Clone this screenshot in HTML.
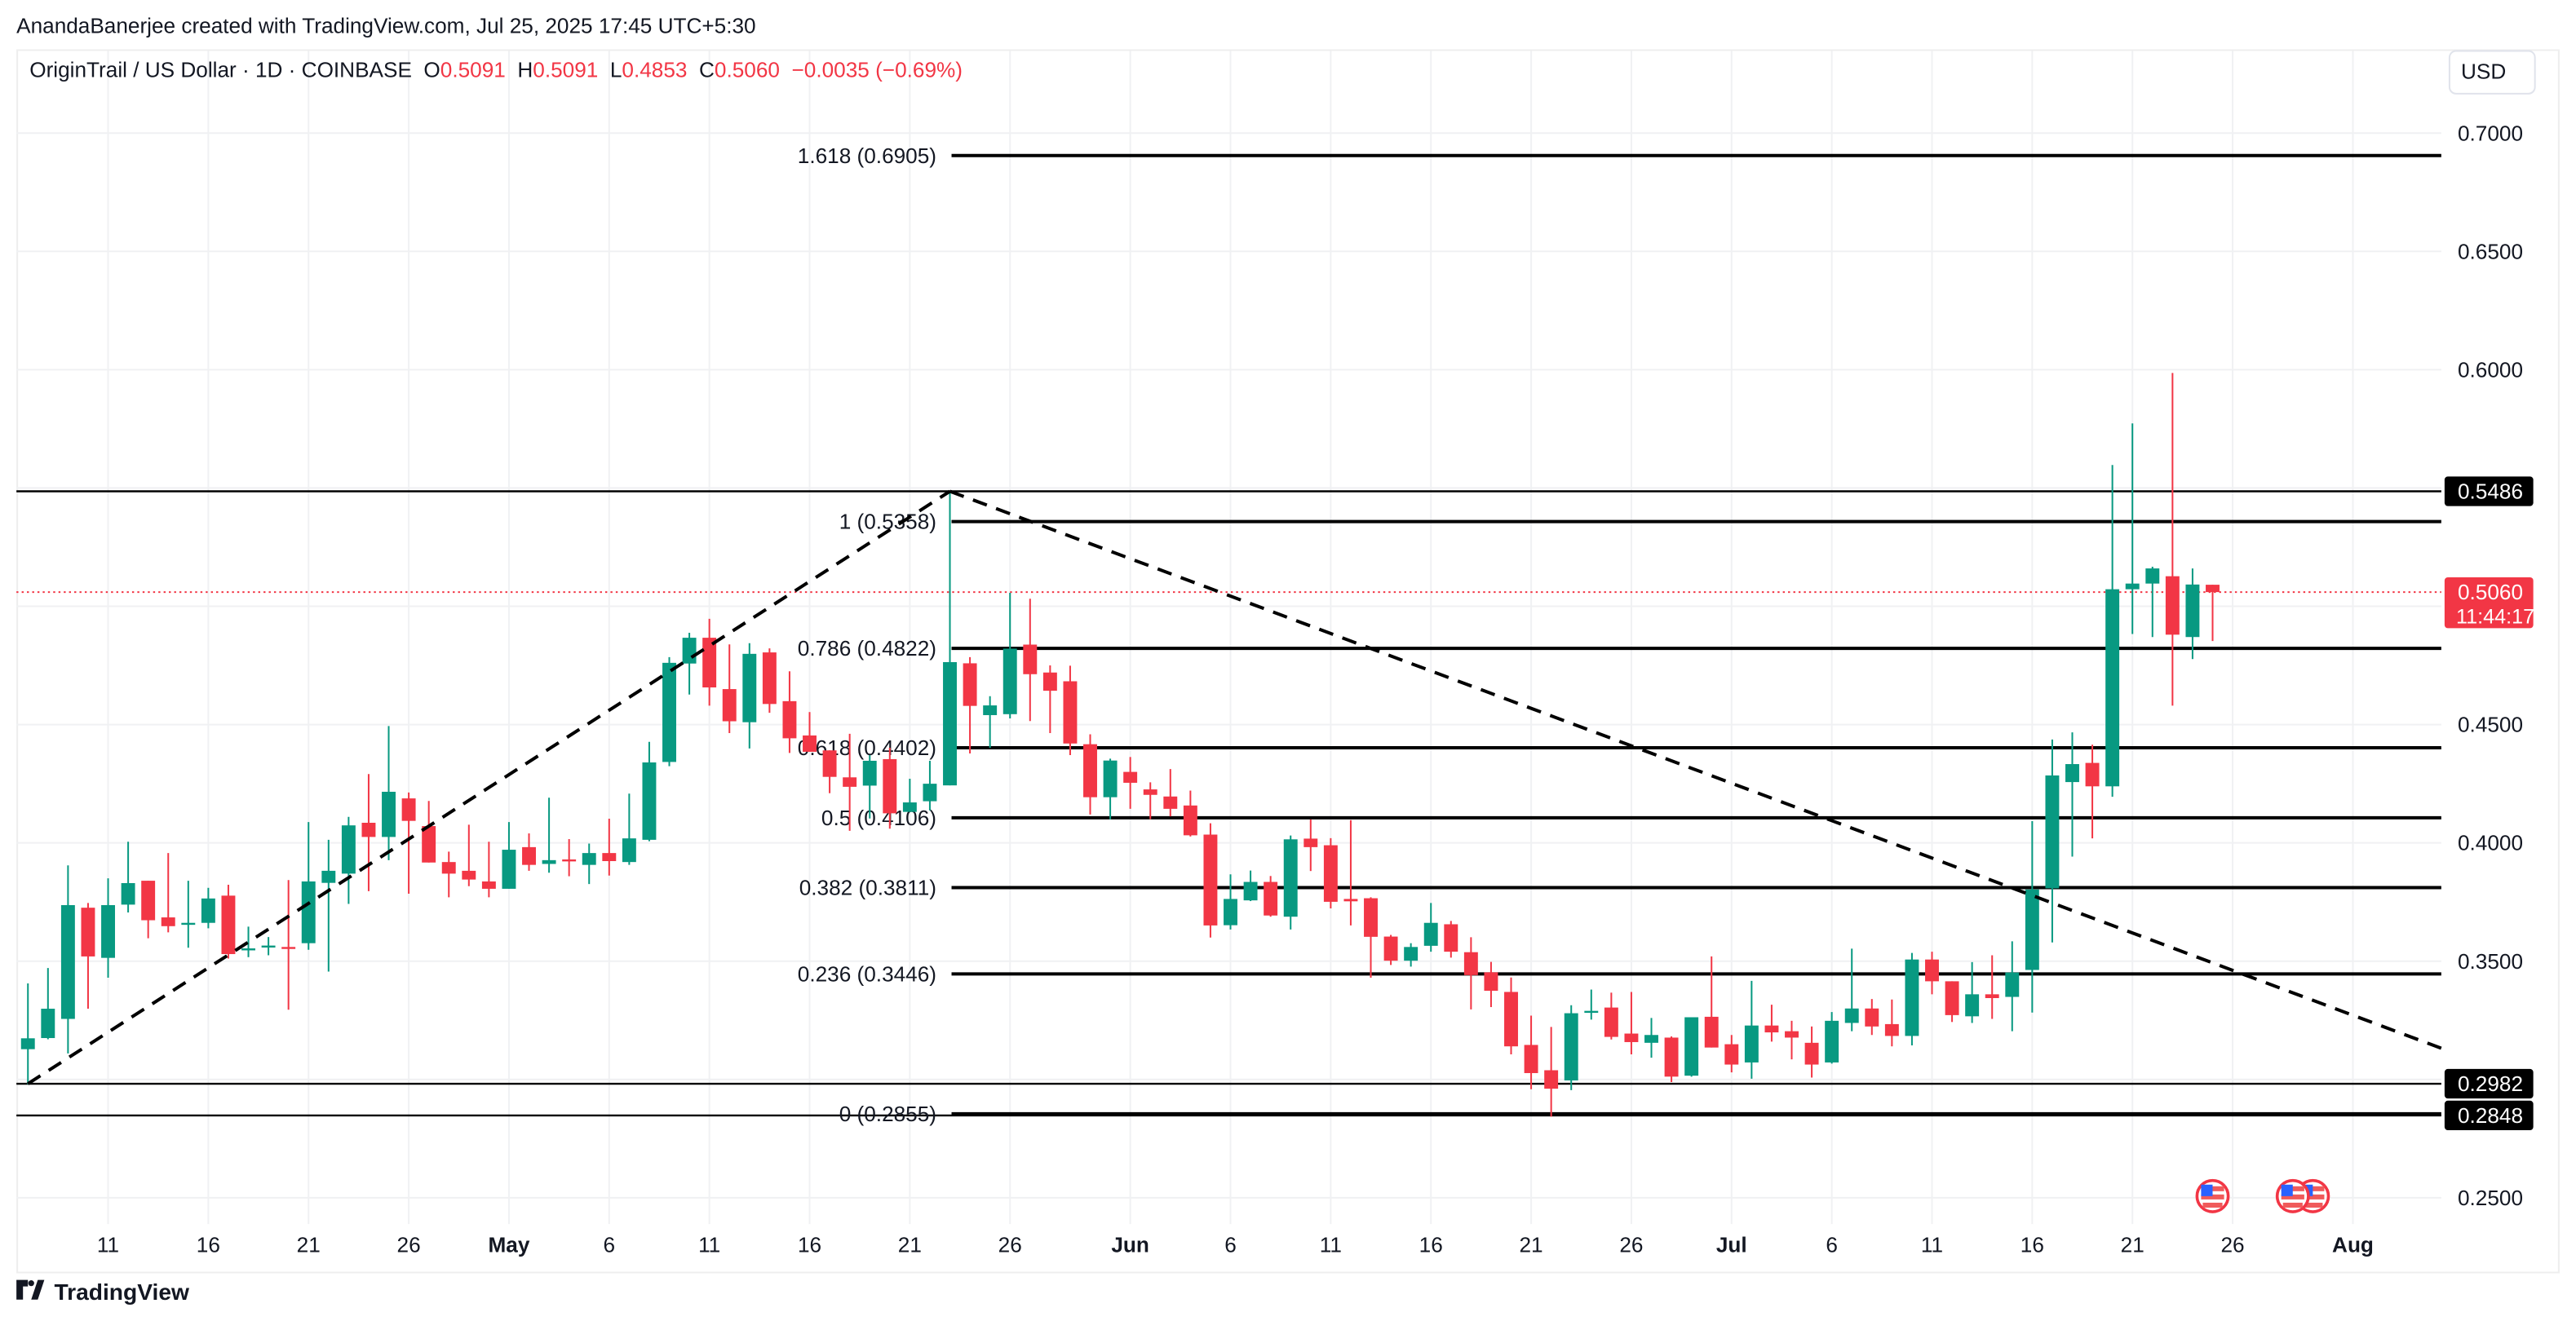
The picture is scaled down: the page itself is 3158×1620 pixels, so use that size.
<!DOCTYPE html>
<html><head><meta charset="utf-8"><style>
html,body{margin:0;padding:0;background:#fff;}
svg{display:block;font-family:"Liberation Sans",sans-serif;}
text{white-space:pre;}
</style></head><body>
<svg id="chart" width="3158" height="1620" viewBox="0 0 1568 804" preserveAspectRatio="none" xmlns="http://www.w3.org/2000/svg">
<rect x="0" y="0" width="1568" height="804" fill="#fff"/>
<text x="10" y="20" font-size="13" fill="#131722">AnandaBanerjee created with TradingView.com, Jul 25, 2025 17:45 UTC+5:30</text>
<rect x="10.5" y="30.5" width="1547" height="744" fill="none" stroke="#eeeeee" stroke-width="1"/>
<g id="grid"></g>
<g id="fib"></g>
<g id="candles"></g>
<g id="overlay"></g>
<text x="18" y="47" font-size="13" fill="#131722">OriginTrail / US Dollar · 1D · COINBASE  O<tspan fill="#f23645">0.5091</tspan>  H<tspan fill="#f23645">0.5091</tspan>  L<tspan fill="#f23645">0.4853</tspan>  C<tspan fill="#f23645">0.5060</tspan>  <tspan fill="#f23645">−0.0035 (−0.69%)</tspan></text>
<rect x="1491" y="31" width="52" height="26" rx="4" fill="#fff" stroke="#e0e3eb"/>
<text x="1498" y="48" font-size="13" fill="#131722">USD</text>
<g id="axis"></g>
<g>
<path d="M10 779 h7 v4 h-3 v8 h-4z M19 791 l4 -12 h4 l-4 12z" fill="#131722"/>
<circle cx="19" cy="781" r="1.8" fill="#131722"/>
<text x="33" y="791" font-size="14" font-weight="bold" fill="#131722">TradingView</text>
</g>
</svg>
<script>
const opens = [.3128,.3175,.3256,.3726,.3514,.3739,.3840,.3685,.3654,.3662,.3777,.3548,.3560,.3560,.3576,.3831,.3870,.4085,.4025,.4188,.4071,.3919,.3882,.3837,.3806,.3982,.3911,.3930,.3907,.3957,.3919,.4013,.4342,.4758,.4867,.4650,.4510,.4805,.4599,.4454,.4391,.4277,.4242,.4354,.4131,.4176,.4243,.4759,.4540,.4544,.4838,.4720,.4683,.4417,.4193,.4300,.4226,.4196,.4158,.4035,.3652,.3757,.3835,.3688,.4018,.3990,.3763,.3766,.3604,.3502,.3565,.3656,.3538,.3453,.3370,.3146,.3039,.2996,.3283,.3304,.3194,.3155,.3177,.3016,.3265,.3149,.3072,.3228,.3204,.3155,.3072,.3239,.3300,.3234,.3184,.3507,.3415,.3267,.3360,.3349,.3463,.3808,.4257,.4338,.4239,.5072,.5096,.5127,.4870,.5091];
const highs = [.3406,.3471,.3905,.3746,.3850,.4005,.3840,.3957,.3840,.3810,.3823,.3646,.3602,.3843,.4088,.4013,.4110,.4291,.4494,.4213,.4177,.3963,.4077,.4005,.4088,.4040,.4191,.4016,.3997,.4102,.4208,.4427,.4785,.4888,.4947,.4839,.4844,.4822,.4725,.4553,.4391,.4461,.4371,.4402,.4271,.4347,.5486,.4785,.4620,.5057,.5032,.4750,.4749,.4459,.4356,.4363,.4256,.4312,.4221,.4083,.3867,.3883,.3860,.4031,.4099,.4020,.4096,.3770,.3611,.3576,.3746,.3670,.3601,.3497,.3431,.3270,.3222,.3314,.3380,.3367,.3370,.3260,.3182,.3263,.3520,.3188,.3417,.3316,.3248,.3224,.3285,.3553,.3340,.3338,.3535,.3540,.3415,.3496,.3525,.3584,.4092,.4437,.4467,.4415,.5597,.5773,.5167,.5986,.5160,.5091];
const lows = [.2980,.3170,.3110,.3299,.3430,.3706,.3597,.3622,.3557,.3639,.3511,.3517,.3525,.3295,.3548,.3456,.3742,.3796,.3927,.3785,.3917,.3770,.3817,.3770,.3806,.3882,.3874,.3859,.3826,.3862,.3907,.4007,.4324,.4627,.4580,.4464,.4399,.4550,.4380,.4385,.4210,.4051,.4103,.4060,.4131,.4137,.4243,.4378,.4401,.4526,.4515,.4464,.4371,.4120,.4099,.4144,.4100,.4112,.4027,.3600,.3634,.3754,.3688,.3634,.3881,.3723,.3651,.3430,.3484,.3477,.3540,.3515,.3296,.3306,.3106,.2959,.2843,.2955,.3253,.3169,.3106,.3092,.2989,.3012,.3135,.3030,.3003,.3160,.3085,.3008,.3067,.3204,.3188,.3140,.3144,.3360,.3243,.3239,.3256,.3204,.3283,.3579,.3942,.4019,.4195,.4883,.4870,.4580,.4777,.4853];
const closes = [.3174,.3299,.3737,.3520,.3737,.3830,.3673,.3648,.3662,.3765,.3530,.3554,.3566,.3556,.3837,.3882,.4074,.4025,.4216,.4093,.3917,.3870,.3845,.3806,.3971,.3907,.3927,.3925,.3957,.3923,.4019,.4340,.4761,.4867,.4657,.4514,.4799,.4587,.4442,.4385,.4279,.4237,.4347,.4125,.4171,.4250,.4764,.4579,.4581,.4821,.4713,.4643,.4420,.4193,.4348,.4254,.4203,.4144,.4032,.3651,.3763,.3835,.3693,.4015,.3982,.3751,.3753,.3603,.3502,.3560,.3662,.3540,.3441,.3375,.3140,.3027,.2961,.3280,.3290,.3180,.3158,.3188,.3012,.3263,.3135,.3063,.3228,.3199,.3177,.3063,.3248,.3300,.3224,.3184,.3507,.3415,.3272,.3360,.3344,.3452,.3803,.4285,.4333,.4239,.5072,.5096,.5160,.4880,.5092,.5060];
const priceTicks = [0.70,0.65,0.60,0.55,0.50,0.45,0.40,0.35,0.30,0.25];
const dateTickIdx = [4,9,14,19,24,29,34,39,44,49,55,60,65,70,75,80,85,90,95,100,105,110,116];
const dateTickLabels = ["11","16","21","26","May","6","11","16","21","26","Jun","6","11","16","21","26","Jul","6","11","16","21","26","Aug"];
const fibRatios = ["1.618","1","0.786","0.618","0.5","0.382","0.236","0"];
const fibPrices = ["0.6905","0.5358","0.4822","0.4402","0.4106","0.3811","0.3446","0.2855"];
const eventIdx = [109,113,114];
const swingLow = 0.2982, swingHigh = 0.5486, lastClose = 0.5060, lowMark = 0.2848;

const NS="http://www.w3.org/2000/svg";
const PL=10, PR=1486;
function y(p){return 81+(0.7-p)*1440;}
function x(i){return 17+i*12.2;}
function mk(tag,attrs,parent){const e=document.createElementNS(NS,tag);for(const k in attrs)e.setAttribute(k,attrs[k]);parent.appendChild(e);return e;}
const grid=document.getElementById('grid'),fib=document.getElementById('fib'),cg=document.getElementById('candles'),ov=document.getElementById('overlay'),ax=document.getElementById('axis');

priceTicks.forEach(p=>{
  const l=mk('line',{x1:PL,x2:PR,y1:y(p),y2:y(p),stroke:'#f0f1f3','stroke-width':1},grid);
  
  
  const t=mk('text',{x:1496,y:y(p)+4.5,'font-size':13,fill:'#131722'},ax);
  t.textContent=p.toFixed(4);
  
  
});
dateTickIdx.forEach((d,k)=>{
  const xx=x(d), lab=dateTickLabels[k];
  const l=mk('line',{x1:xx,x2:xx,y1:31,y2:745,stroke:'#f0f1f3','stroke-width':1},grid);
  
  
  const bold=isNaN(+lab);
  const t=mk('text',{x:xx,y:762,'font-size':13,'text-anchor':'middle',fill:'#131722','font-weight':bold?'bold':'normal'},ax);
  t.textContent=lab;
  
  
});

[[swingHigh,'swing-high-line'],[swingLow,'swing-low-line'],[lowMark,'low-line']].forEach(a=>{
  const l=mk('line',{x1:PL,x2:PR,y1:y(a[0]),y2:y(a[0]),stroke:'#000','stroke-width':1.2},fib);
  
  
});
const fibX=x(46)+1;
fibPrices.forEach((fp,k)=>{
  const yy=y(+fp);
  const l=mk('line',{x1:fibX,x2:PR,y1:yy,y2:yy,stroke:'#000','stroke-width':2},fib);
  
  
  const t=mk('text',{x:570,y:yy+4.5,'font-size':13,'text-anchor':'end',fill:'#131722'},fib);
  t.textContent=fibRatios[k]+' ('+fp+')';
  
  
});
const cl=mk('line',{x1:PL,x2:PR,y1:y(lastClose),y2:y(lastClose),stroke:'#f23645','stroke-width':1,'stroke-dasharray':'1.2 2'},fib);



for(let i=0;i<opens.length;i++){
  const up=closes[i]>=opens[i], col=up?'#089981':'#f23645';
  const g=mk('g',{},cg);
  
  
  mk('line',{x1:x(i),x2:x(i),y1:y(highs[i]),y2:y(lows[i]),stroke:col,'stroke-width':1},g);
  const t=y(Math.max(opens[i],closes[i])), b=y(Math.min(opens[i],closes[i]));
  mk('rect',{x:x(i)-4.2,y:t,width:8.4,height:Math.max(1.2,b-t),fill:col},g);
}

const t1=mk('line',{x1:x(0),y1:y(swingLow),x2:x(46),y2:y(swingHigh),stroke:'#000','stroke-width':2,'stroke-dasharray':'9 6'},ov);


const t2=mk('line',{x1:x(46),y1:y(swingHigh),x2:PR,y2:638,stroke:'#000','stroke-width':2,'stroke-dasharray':'9 6'},ov);



eventIdx.slice().reverse().forEach(i=>{
  const fx=x(i);
  const g=mk('g',{},ov);
  
  
  mk('circle',{cx:fx,cy:728,r:9.5,fill:'#fff',stroke:'#f23645','stroke-width':1.8},g);
  mk('rect',{x:fx-7,y:722,width:14,height:3,fill:'#f05a5a'},g);
  mk('rect',{x:fx-7,y:727,width:14,height:3,fill:'#f05a5a'},g);
  mk('rect',{x:fx-6,y:732,width:12,height:3,fill:'#f05a5a'},g);
  mk('rect',{x:fx-7,y:721,width:7,height:7,fill:'#2962ff'},g);
});

function badge(p,txt,bg,name,h,sub){
  const g=mk('g',{},ax);
  
  
  const yy=y(p);
  mk('rect',{x:1488,y:yy-9,width:54,height:h,rx:2,fill:bg},g);
  const t=mk('text',{x:1496,y:yy+4.5,'font-size':13,fill:'#fff'},g);t.textContent=txt;
  if(sub){const s=mk('text',{x:1495,y:yy+19,'font-size':12.5,fill:'#fff'},g);s.textContent=sub;}
}
badge(swingHigh,'0.5486','#000','swing-high-badge',18);
badge(lastClose,'0.5060','#f23645','last-price-badge',31,'11:44:17');
badge(swingLow,'0.2982','#000','swing-low-badge',18);
badge(lowMark,'0.2848','#000','low-badge',18);
</script>
</body></html>
